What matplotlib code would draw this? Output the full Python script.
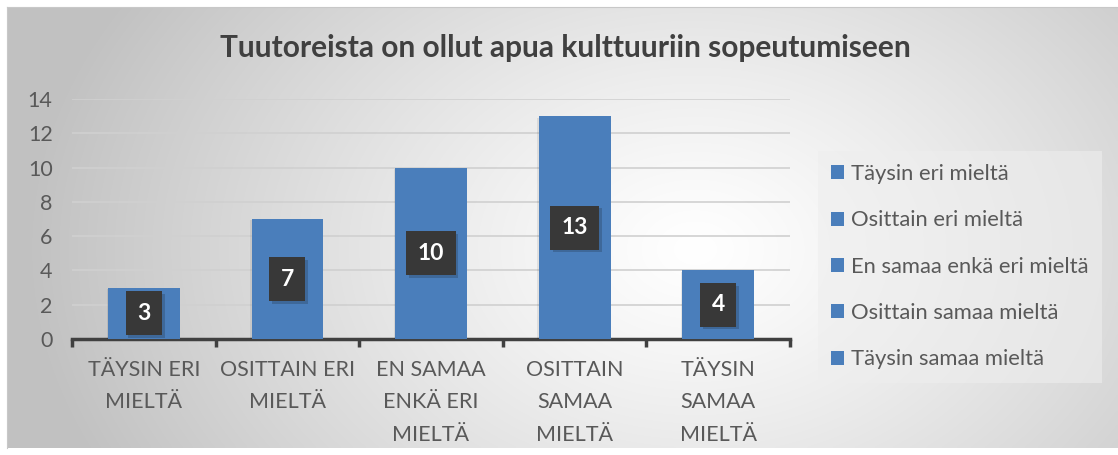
import numpy as np
import matplotlib
matplotlib.use("Agg")
import matplotlib.pyplot as plt
from matplotlib.patches import Patch
from matplotlib import patheffects as pe

categories = ["TÄYSIN ERI\nMIELTÄ", "OSITTAIN ERI\nMIELTÄ", "EN SAMAA\nENKÄ ERI\nMIELTÄ",
              "OSITTAIN\nSAMAA\nMIELTÄ", "TÄYSIN\nSAMAA\nMIELTÄ"]
legend_labels = ["Täysin eri mieltä", "Osittain eri mieltä", "En samaa enkä eri mieltä",
                 "Osittain samaa mieltä", "Täysin samaa mieltä"]
values = [3, 7, 10, 13, 4]
title = "Tuutoreista on ollut apua kulttuuriin sopeutumiseen"

W, H = 1118, 455
plt.rcParams['font.family'] = ['Lato', 'DejaVu Sans']
fig = plt.figure(figsize=(W / 100, H / 100), dpi=100)
fig.patch.set_facecolor("white")

# background gradient frame
bx0, by0, bx1, by1 = 7, 7, 1118, 448
bg = fig.add_axes([bx0 / W, 1 - by1 / H, (bx1 - bx0) / W, (by1 - by0) / H], zorder=-10)
nx, ny = 400, 160
xx, yy = np.meshgrid(np.linspace(0, 1, nx), np.linspace(0, 1, ny))
d = np.sqrt(((xx - 0.62) / 0.6) ** 2 + ((yy - 0.55) / 1.1) ** 2)
v = 1 - 0.24 * np.clip(d, 0, 1) ** 1.2
bg.imshow(np.dstack([v, v, v]), aspect="auto", extent=[0, 1, 0, 1], interpolation="bilinear")
bg.set_xlim(0, 1); bg.set_ylim(0, 1)
for s in bg.spines.values():
    s.set_visible(False)
bg.spines['top'].set_visible(True); bg.spines['top'].set_color("#c8c8c8")
bg.spines['left'].set_visible(True); bg.spines['left'].set_color("#c8c8c8")
bg.set_xticks([]); bg.set_yticks([])

# main axes
ax0, ax1, ay0, ay1 = 72, 790, 339, 99
ax = fig.add_axes([ax0 / W, 1 - ay0 / H, (ax1 - ax0) / W, (ay0 - ay1) / H])
ax.patch.set_alpha(0)
x = np.arange(len(values))
bars = ax.bar(x, values, width=0.5, color="#4a7ebb", zorder=3)
for b in bars:
    b.set_path_effects([pe.SimplePatchShadow(offset=(-1, -1), alpha=0.08, shadow_rgbFace="k"), pe.Normal()])
ax.set_xlim(-0.5, len(values) - 0.5)
ax.set_ylim(0, 14)
ax.set_yticks(range(0, 15, 2))
ax.yaxis.grid(True, color="#d0d0d0", linewidth=1.2, zorder=0)
ax.set_axisbelow(True)
for s in ["top", "right", "left"]:
    ax.spines[s].set_visible(False)
ax.spines["bottom"].set_color("#404040")
ax.spines["bottom"].set_linewidth(2.5)
ax.tick_params(axis="y", length=0, labelsize=15.5, labelcolor="#595959", pad=14)
ax.set_xticks(x)
ax.set_xticklabels(categories, fontsize=15.5, color="#595959", linespacing=1.78)
ax.tick_params(axis="x", length=0, pad=15)
# boundary tick marks
ax.set_xticks(np.arange(-0.5, len(values), 1.0), minor=True)
ax.tick_params(axis="x", which="minor", length=6, width=2.5, color="#404040")

for i, val in enumerate(values):
    t = ax.text(i, val / 2, str(val), ha="center", va="center", fontsize=16.5, fontweight="bold",
                color="white", zorder=5,
                bbox=dict(boxstyle="square,pad=0.5", facecolor="#383838", edgecolor="none"))
    t.get_bbox_patch().set_path_effects([pe.SimplePatchShadow(offset=(2, -2), alpha=0.2), pe.Normal()])

fig.text(565 / W, 1 - 48 / H, title, ha="center", va="center", fontsize=21.5,
         fontweight="bold", color="#404040")

handles = [Patch(facecolor="#4a7ebb", edgecolor="none") for _ in legend_labels]
leg = fig.legend(handles, legend_labels, loc="upper left",
                 bbox_to_anchor=(818 / W, 1 - 151 / H), bbox_transform=fig.transFigure,
                 fontsize=15.8, labelcolor="#595959", frameon=True, fancybox=False,
                 handlelength=0.6, handleheight=0.6, handletextpad=0.3,
                 labelspacing=1.2, borderpad=0.6, borderaxespad=0)
leg.get_frame().set_facecolor("#eeeeee")
leg.get_frame().set_alpha(0.6)
leg.get_frame().set_edgecolor("none")

fig.savefig("out.png", dpi=100)
